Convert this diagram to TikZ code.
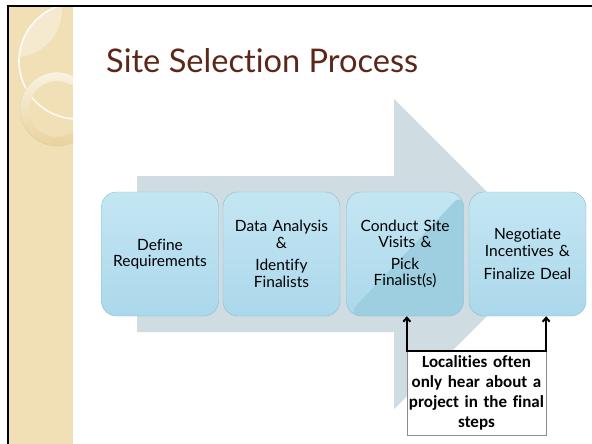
\documentclass[tikz,border=0pt]{standalone}
\usepackage{fontspec}
\setmainfont{Lato}[Ligatures=NoCommon]
\newfontfamily\calloutfont{Carlito}[Ligatures=NoCommon]
\usetikzlibrary{arrows.meta}
\definecolor[named]{SlideTan}{HTML}{F1DFB6}
\definecolor[named]{RingGold}{HTML}{E9D29E}
\definecolor[named]{SlideBrown}{HTML}{5C2718}
\definecolor[named]{ArrowGrey}{HTML}{CFDCE1}
\definecolor[named]{StepTop}{HTML}{C4E6F3}
\definecolor[named]{StepBottom}{HTML}{ABD8EB}
\definecolor[named]{StepEdge}{HTML}{88BDD1}
\definecolor[named]{StepShade}{HTML}{9DCFE0}

\tikzset{
  stepbox/.style={draw=StepEdge,top color=StepTop,bottom color=StepBottom,
    rounded corners=15pt,minimum width=117pt,minimum height=124pt,
    text width=114pt,align=center,inner sep=1pt,
    font=\fontsize{15.5}{16.5}\selectfont},
  note/.style={draw=black!45,fill=white,minimum width=139pt,minimum height=84pt,
    text width=137pt,align=center,inner sep=1pt,
    font=\calloutfont\bfseries\fontsize{17}{20}\selectfont},
  bracket/.style={line width=2pt,-{Straight Barb[length=4pt,width=7pt]}}
}

\begin{document}
\begin{tikzpicture}[x=1pt,y=-1pt]
  \useasboundingbox (0,0) rectangle (592,444);
  \clip (0,0) rectangle (592,444);

  % Side bar with its rings
  \fill[SlideTan] (9,6) rectangle (73,444);
  \begin{scope}
    \clip (9,6) rectangle (73,444);
    \begin{scope}
      \clip (77,61) circle (58);
      \fill[white,opacity=0.35] (15,10) circle (47);
    \end{scope}
    \draw[white,line width=1.6pt,opacity=0.85] (77,61) circle (58);
    \shade[top color=SlideTan!40,bottom color=RingGold,even odd rule]
      (57,109) circle (37) (57,109) circle (28);
    \draw[RingGold!80!black,opacity=0.25] (57,109) circle (37);
  \end{scope}

  % Slide frame
  \draw[line width=2pt] (8,444) -- (8,6) -- (592,6);

  % Title
  \node[anchor=base west,inner sep=0pt,text=SlideBrown,
        font=\fontsize{32.6}{38}\selectfont] (title) at (106,73) {Site Selection Process};

  % Big arrow behind the steps
  \fill[ArrowGrey] (137,176) -- (394,176) -- (394,99) -- (549,254)
    -- (394,409) -- (394,332) -- (137,332) -- cycle;

  % Steps
  \node[stepbox] (define) at (160,254) {Define\\Requirements};
  \node[stepbox] (analyse) at (281.5,254) {Data Analysis\\\&\\[6pt]Identify\\Finalists};
  \node[stepbox,path picture={
      \fill[StepShade] (path picture bounding box.south west)
        -- (path picture bounding box.south east)
        -- (path picture bounding box.north east) -- cycle;}]
    (visit) at (405,254) {Conduct Site\\Visits \&\\[5pt]Pick\\Finalist(s)};
  \node[stepbox] (deal) at (527.5,254) {Negotiate\\Incentives \&\\[7pt]Finalize Deal};

  % Callout under the last two steps
  \node[note] (remark) at (476.5,393) {Localities often\\only hear about a\\project in the final\\steps};
  \draw[line width=2pt,line cap=rect] (remark.north west) -- (remark.north east);
  \draw[bracket] (remark.north west) -- (remark.north west |- visit.south);
  \draw[bracket] (remark.north east) -- (remark.north east |- deal.south);
\end{tikzpicture}
\end{document}
